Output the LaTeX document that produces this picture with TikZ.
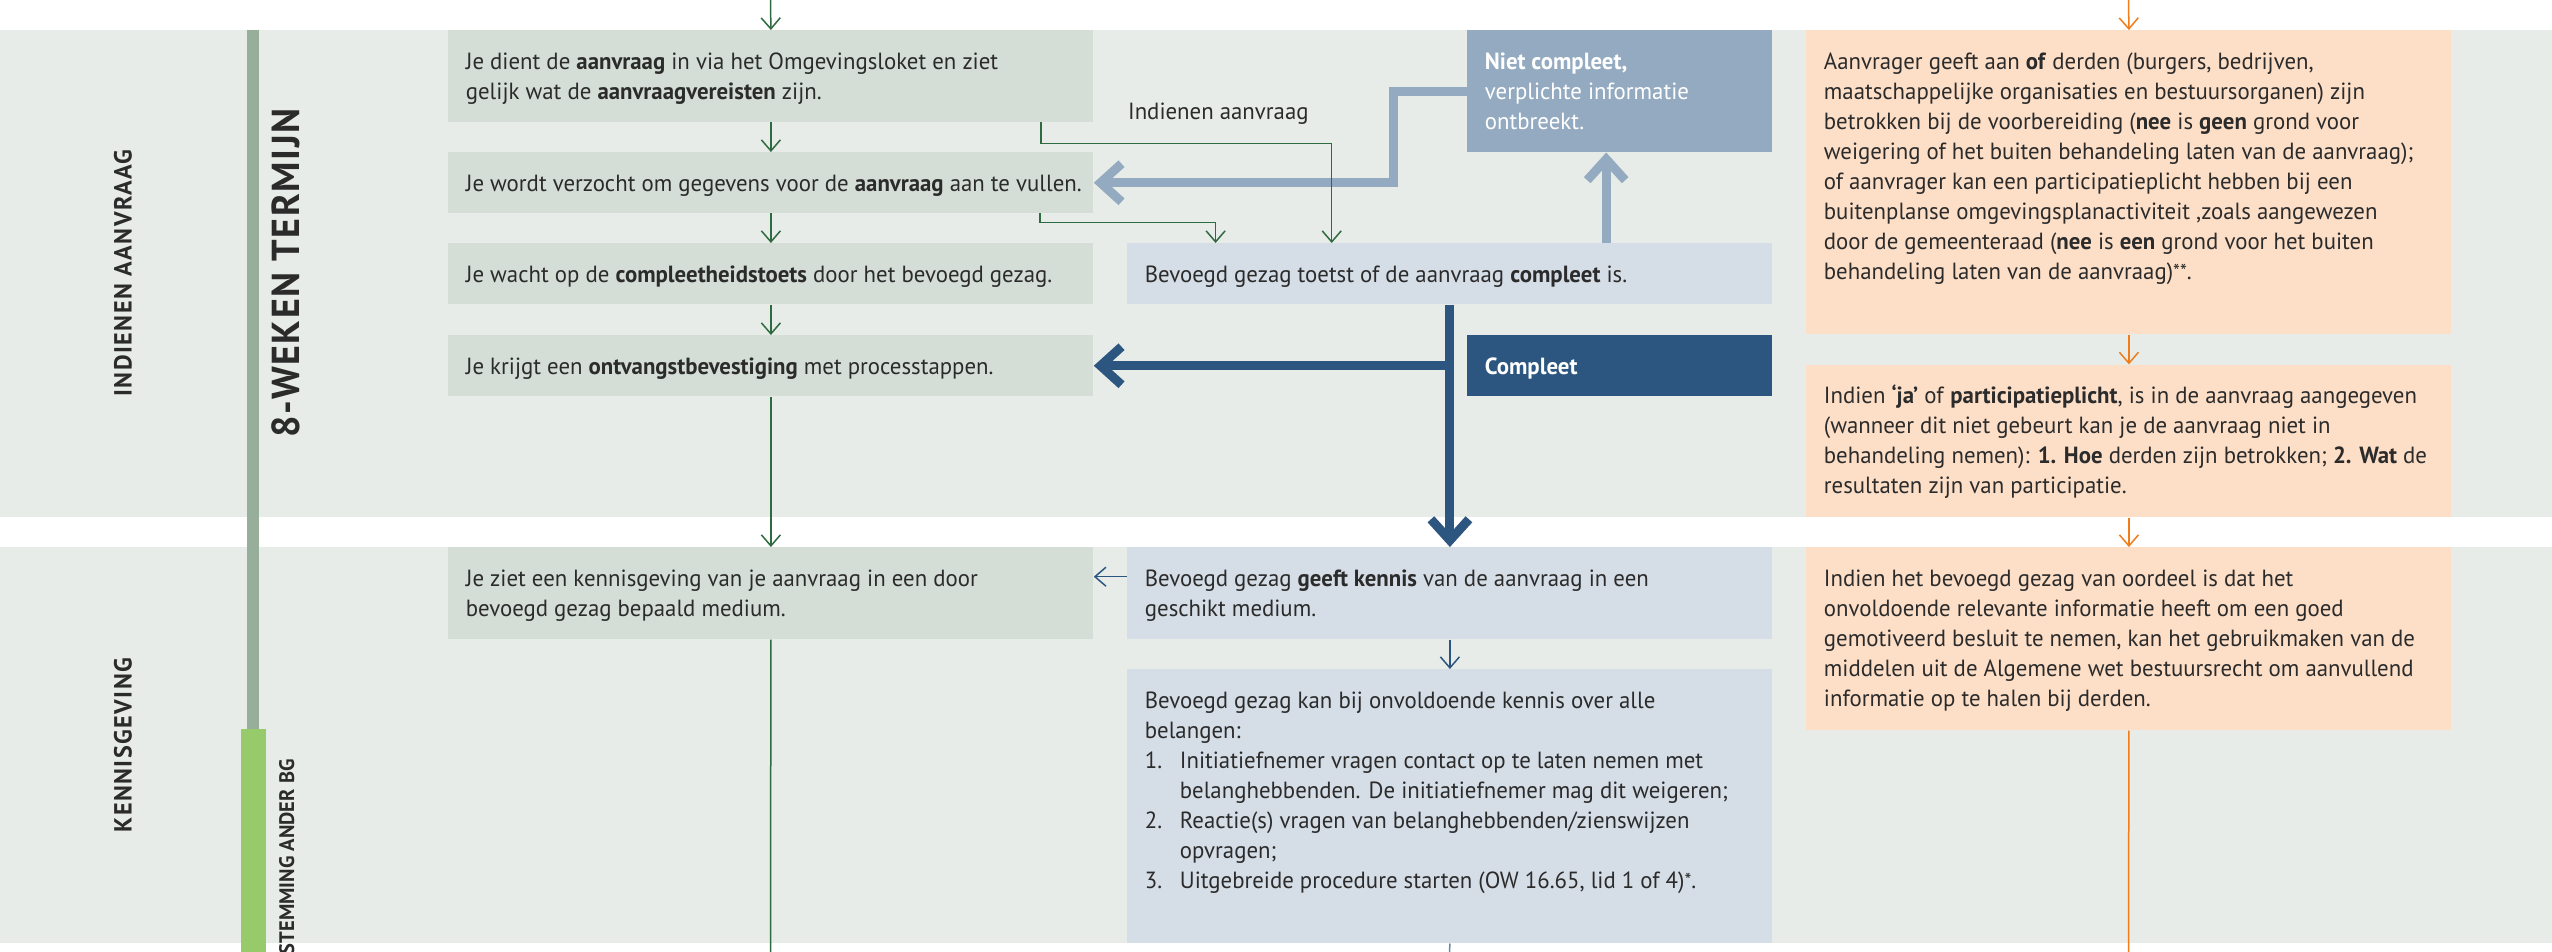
\documentclass[tikz,border=0pt]{standalone}
\usepackage{fontspec}
\setmainfont{PT Sans}[FakeStretch=0.975]
\usetikzlibrary{arrows.meta,calc}
\definecolor{bandbg}{HTML}{E8ECE8}
\definecolor{lbox}{HTML}{D4DED6}
\definecolor{mbox}{HTML}{D5DDE6}
\definecolor{ncbox}{HTML}{94AAC0}
\definecolor{dblue}{HTML}{2C5680}
\definecolor{obox}{HTML}{FDDFC8}
\definecolor{gbar}{HTML}{96AE9A}
\definecolor{lgbar}{HTML}{96CA6B}
\definecolor{gline}{HTML}{2F6B40}
\definecolor{oline}{HTML}{F07D1A}
\definecolor{txt}{HTML}{2B2B2B}
\newcommand\boxtext[2]{\parbox[t]{#1}{\begin{tabular}[t]{@{}l@{}}#2\end{tabular}}}
\newcommand\stars[1]{{\fontsize{10}{10}\selectfont\raisebox{0.5pt}{#1}}}
\begin{document}
\begin{tikzpicture}[x=0.5pt,y=-0.5pt,
  bx/.style={anchor=north west, inner xsep=8.75pt, inner ysep=0pt, text height=19.5pt,
    font=\fontsize{11.7}{15}\selectfont, text=txt},
  dp/.style={text depth=#1},
  garrow/.style={draw=gline, line width=0.75pt, -{Straight Barb[length=5.5pt,width=9.5pt]}},
  gline/.style={draw=gline, line width=0.75pt},
  oarrow/.style={draw=oline, line width=0.75pt, -{Straight Barb[length=5.5pt,width=9.5pt]}},
  olin/.style={draw=oline, line width=0.75pt},
  tbarrow/.style={draw=dblue, line width=0.75pt, -{Straight Barb[length=5.5pt,width=9.5pt]}},
  tblin/.style={draw=dblue!70, line width=0.75pt},
  thl/.style={draw=ncbox, line width=4.5pt, line join=miter, -{Straight Barb[length=10.5pt,width=19pt,line cap=butt,line join=miter]}},
  thd/.style={draw=dblue, line width=4.5pt, line join=miter},
  thdarrow/.style={thd, -{Straight Barb[length=10.5pt,width=19pt,line cap=butt,line join=miter]}},
  sidelbl/.style={rotate=90, inner sep=0pt, text=txt, font=\bfseries\fontsize{12.4}{14}\selectfont\addfontfeature{LetterSpace=6}}
]
\clip (0,0) rectangle (2552,952);
\fill[white] (0,0) rectangle (2552,952);
\fill[bandbg] (0,30) rectangle (2552,516.7);
\fill[bandbg] (0,547) rectangle (2552,942.7);
\fill[gbar] (247.3,30) rectangle (259.3,728.6);
\fill[lgbar] (241.3,728.6) rectangle (265.7,952);

\node[sidelbl] (s1) at (123,273) {INDIENEN AANVRAAG};
\node[sidelbl] (s2) at (123,745) {KENNISGEVING};
\node[sidelbl, font=\bfseries\fontsize{19.5}{21}\selectfont\addfontfeature{LetterSpace=4}] (s3) at (286,273) {8-WEKEN TERMIJN};
\node[sidelbl, anchor=east, font=\bfseries\fontsize{10.5}{12}\selectfont] (s4) at (286.7,759) {AFSTEMMING ANDER BG};

% left column
\node[bx, fill=lbox, dp=26.35pt] (b1) at (448,30) {\boxtext{305pt}{Je dient de \textbf{aanvraag} in via het Omgevingsloket en ziet\\gelijk wat de \textbf{aanvraagvereisten} zijn.}};
\node[bx, fill=lbox, dp=10.85pt] (b2) at (448,152) {\boxtext{305pt}{Je wordt verzocht om gegevens voor de \textbf{aanvraag} aan te vullen.}};
\node[bx, fill=lbox, dp=10.85pt] (b3) at (448,243) {\boxtext{305pt}{Je wacht op de \textbf{compleetheidstoets} door het bevoegd gezag.}};
\node[bx, fill=lbox, dp=10.85pt] (b4) at (448,335) {\boxtext{305pt}{Je krijgt een \textbf{ontvangstbevestiging} met processtappen.}};
\node[bx, fill=lbox, dp=26.35pt] (b5) at (448,547) {\boxtext{305pt}{Je ziet een kennisgeving van je aanvraag in een door\\bevoegd gezag bepaald medium.}};

% middle column
\node[bx, fill=mbox, dp=10.85pt] (m1) at (1127,243) {\boxtext{305pt}{Bevoegd gezag toetst of de aanvraag \textbf{compleet} is.}};
\node[bx, fill=ncbox, text=white, dp=41.35pt] (nc) at (1467,30) {\boxtext{135pt}{\textbf{Niet compleet,}\\verplichte informatie\\ontbreekt.}};
\node[bx, fill=dblue, text=white, dp=10.85pt] (cp) at (1467,335) {\boxtext{135pt}{\textbf{Compleet}}};
\node[bx, fill=mbox, dp=26.35pt] (m2) at (1127,547) {\boxtext{305pt}{Bevoegd gezag \textbf{geeft kennis} van de aanvraag in een\\geschikt medium.}};
\node[bx, fill=mbox, dp=117.35pt] (m3) at (1127,669) {\boxtext{305pt}{Bevoegd gezag kan bij onvoldoende kennis over alle\\belangen:\\
\makebox[17.5pt][l]{1.}Initiatiefnemer vragen contact op te laten nemen met\\
\hspace*{17.5pt}belanghebbenden. De initiatiefnemer mag dit weigeren;\\
\makebox[17.5pt][l]{2.}Reactie(s) vragen van belanghebbenden/zienswijzen\\
\hspace*{17.5pt}opvragen;\\
\makebox[17.5pt][l]{3.}Uitgebreide procedure starten (OW 16.65, lid 1 of 4)\stars{*}.}};

% right column
\node[bx, fill=obox, dp=132.35pt] (r1) at (1806,30) {\boxtext{305pt}{Aanvrager geeft aan \textbf{of} derden (burgers, bedrijven,\\
maatschappelijke organisaties en bestuursorganen) zijn\\
betrokken bij de voorbereiding (\textbf{nee} is \textbf{geen} grond voor\\
weigering of het buiten behandeling laten van de aanvraag);\\
of aanvrager kan een participatieplicht hebben bij een\\
buitenplanse omgevingsplanactiviteit ,zoals aangewezen\\
door de gemeenteraad (\textbf{nee} is \textbf{een} grond voor het buiten\\
behandeling laten van de aanvraag)\stars{**}.}};
\node[bx, fill=obox, dp=56.8pt] (r2) at (1806,364.4) {\boxtext{305pt}{Indien \textbf{‘ja’} of \textbf{participatieplicht}, is in de aanvraag aangegeven\\
(wanneer dit niet gebeurt kan je de aanvraag niet in\\
behandeling nemen): \textbf{1. Hoe} derden zijn betrokken; \textbf{2. Wat} de\\
resultaten zijn van participatie.}};
\node[bx, fill=obox, dp=71.85pt] (r3) at (1806,547) {\boxtext{305pt}{Indien het bevoegd gezag van oordeel is dat het\\
onvoldoende relevante informatie heeft om een goed\\
gemotiveerd besluit te nemen, kan het gebruikmaken van de\\
middelen uit de Algemene wet bestuursrecht om aanvullend\\
informatie op te halen bij derden.}};

\node[anchor=base west, inner sep=0pt, font=\fontsize{11.7}{15}\selectfont, text=txt] (lbl) at (1127.7,120) {Indienen aanvraag};

% thick connectors
\draw[thl] (nc.west) -- ++(-73.2,0) |- (b2.east);
\coordinate (upx) at ([xshift=-6.85pt]nc.south);
\draw[thl] (upx |- m1.north) -- (upx);
\draw[thdarrow] (m1.south) -- (m2.north);
\draw[thdarrow] (m1.south |- b4.east) -- (b4.east);

% thin green connectors
\coordinate (gt) at (770.5,0);
\coordinate (gb) at (770.5,952);
\draw[garrow] (gt) -- (b1.north);
\draw[garrow] (b1.south) -- (b2.north);
\draw[garrow] (b2.south) -- (b3.north);
\draw[garrow] (b3.south) -- (b4.north);
\draw[garrow] (b4.south) -- (b5.north);
\draw[gline] (b5.south) -- (gb);
\draw[garrow] ([xshift=-26.5pt]b1.south east) -- ++(0,21) -| ([xshift=102.35pt]m1.north west);
\draw[garrow] ([xshift=-26.8pt]b2.south east) -- ++(0,9) -| ([xshift=44.3pt]m1.north west);

% thin blue
\draw[tbarrow] ([yshift=-14.85pt]m2.north west) -- ([yshift=-14.85pt]b5.north east);
\draw[tbarrow] (m2.south) -- (m3.north);
\coordinate (mb) at (1449.5,952);
\draw[tblin] (m3.south) -- (mb);

% orange
\coordinate (ot) at (2128.5,0);
\coordinate (ob) at (2128.5,952);
\draw[oarrow] (ot) -- (r1.north);
\draw[oarrow] (r1.south) -- (r2.north);
\draw[oarrow] (r2.south) -- (r3.north);
\draw[olin] (r3.south) -- (ob);
\end{tikzpicture}
\end{document}
